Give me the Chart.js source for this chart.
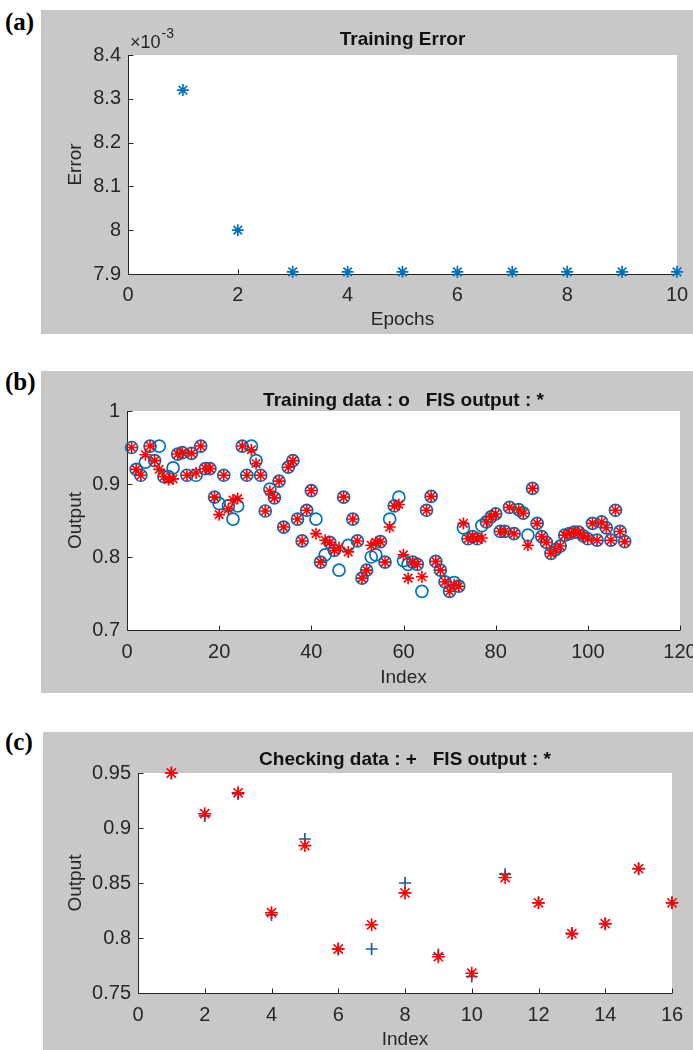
<!DOCTYPE html>
<html>
<head>
<meta charset="utf-8">
<script src="https://cdn.jsdelivr.net/npm/chart.js@4.4.0/dist/chart.umd.min.js"></script>
<style>
  body { margin:0; background:#fff; width:693px; height:1050px; position:relative; overflow:hidden; }
  .panel { position:absolute; background:#c8c8c8; }
  .panel canvas { display:block; }
  .tag { position:absolute; font-family:"Liberation Serif","Times New Roman",serif; font-weight:bold; font-size:25px; color:#000; line-height:28px; }
</style>
</head>
<body>
<div class="tag" style="left:5px;top:8px">(a)</div>
<div class="tag" style="left:5px;top:368px">(b)</div>
<div class="tag" style="left:5px;top:728px">(c)</div>

<div class="panel" style="left:41px;top:10px;width:652px;height:324px"><canvas id="chartA" width="652" height="324"></canvas></div>
<div class="panel" style="left:41px;top:371px;width:652px;height:322px"><canvas id="chartB" width="654" height="322"></canvas></div>
<div class="panel" style="left:43px;top:732px;width:650px;height:320px"><canvas id="chartC" width="650" height="320"></canvas></div>

<script>
// (a) training error per epoch
const epochs = [1, 2, 3, 4, 5, 6, 7, 8, 9, 10];
const trainError = [0.00832, 0.00800, 0.007905, 0.007905, 0.007905, 0.007905, 0.007905, 0.007905, 0.007905, 0.007905];

// (b) training data (o) vs FIS output (*), index 1..108
const trainData = [
  0.950, 0.920, 0.912, 0.930, 0.952, 0.932, 0.952, 0.910, 0.910, 0.922,
  0.941, 0.943, 0.912, 0.942, 0.912, 0.952, 0.921, 0.921, 0.882, 0.873,
  0.912, 0.870, 0.852, 0.870, 0.952, 0.912, 0.952, 0.932, 0.912, 0.863,
  0.893, 0.881, 0.904, 0.841, 0.923, 0.932, 0.852, 0.822, 0.864, 0.891,
  0.852, 0.793, 0.803, 0.820, 0.809, 0.782, 0.882, 0.816, 0.852, 0.822,
  0.771, 0.782, 0.800, 0.803, 0.821, 0.793, 0.852, 0.870, 0.882, 0.795,
  0.790, 0.793, 0.790, 0.753, 0.864, 0.883, 0.794, 0.782, 0.766, 0.753,
  0.765, 0.760, 0.840, 0.825, 0.828, 0.825, 0.843, 0.848, 0.855, 0.859,
  0.835, 0.835, 0.868, 0.832, 0.865, 0.860, 0.830, 0.894, 0.846, 0.828,
  0.820, 0.805, 0.810, 0.815, 0.830, 0.832, 0.834, 0.834, 0.829, 0.825,
  0.846, 0.823, 0.848, 0.840, 0.823, 0.864, 0.835, 0.821
];
const fisTrain = [
  0.950, 0.920, 0.912, 0.940, 0.952, 0.932, 0.920, 0.910, 0.906, 0.907,
  0.941, 0.943, 0.912, 0.942, 0.915, 0.952, 0.921, 0.921, 0.882, 0.858,
  0.912, 0.866, 0.878, 0.880, 0.952, 0.912, 0.947, 0.928, 0.912, 0.863,
  0.890, 0.881, 0.904, 0.841, 0.923, 0.932, 0.852, 0.822, 0.864, 0.891,
  0.832, 0.793, 0.823, 0.820, 0.809, 0.813, 0.882, 0.807, 0.852, 0.822,
  0.771, 0.782, 0.816, 0.820, 0.821, 0.793, 0.841, 0.870, 0.872, 0.803,
  0.771, 0.793, 0.790, 0.773, 0.864, 0.883, 0.794, 0.782, 0.766, 0.753,
  0.762, 0.760, 0.846, 0.825, 0.828, 0.825, 0.826, 0.848, 0.855, 0.859,
  0.835, 0.835, 0.868, 0.832, 0.865, 0.860, 0.816, 0.894, 0.846, 0.828,
  0.820, 0.805, 0.810, 0.815, 0.830, 0.832, 0.834, 0.834, 0.829, 0.825,
  0.846, 0.823, 0.848, 0.840, 0.823, 0.864, 0.835, 0.821
];

// (c) checking data (+) vs FIS output (*), index 1..16
const checkData = [0.950, 0.911, 0.931, 0.821, 0.890, 0.790, 0.790, 0.850, 0.785, 0.765, 0.858, 0.832, 0.804, 0.813, 0.863, 0.832];
const fisCheck  = [0.950, 0.913, 0.932, 0.823, 0.884, 0.790, 0.812, 0.841, 0.783, 0.768, 0.855, 0.832, 0.804, 0.813, 0.863, 0.832];

const FONT = '"Liberation Sans", Arial, Helvetica, sans-serif';
const AXIS = '#262626';
const BLUE = '#0072BD';
const RED = '#ff0000';

const toPoints = (xs, ys) => ys.map((y, i) => ({ x: xs[i], y }));
const idx = n => Array.from({ length: n }, (_, i) => i + 1);

// white plot box, MATLAB style inward ticks, title
const matlabAxes = {
  id: 'matlabAxes',
  beforeDatasetsDraw(chart) {
    const { ctx, chartArea: a, scales } = chart;
    ctx.save();
    ctx.fillStyle = '#fff';
    ctx.fillRect(a.left, a.top, a.right - a.left, a.bottom - a.top);
    ctx.strokeStyle = AXIS;
    ctx.lineWidth = 1;
    const L = Math.round(a.left) + 0.5, B = Math.round(a.bottom) + 0.5;
    ctx.beginPath();
    ctx.moveTo(L, a.top); ctx.lineTo(L, B); ctx.lineTo(a.right, B);
    scales.x.ticks.forEach(t => {
      const px = Math.round(scales.x.getPixelForValue(t.value)) + 0.5;
      ctx.moveTo(px, B); ctx.lineTo(px, B - 5);
    });
    scales.y.ticks.forEach(t => {
      const py = Math.round(scales.y.getPixelForValue(t.value)) + 0.5;
      ctx.moveTo(L, py); ctx.lineTo(L + 5, py);
    });
    ctx.stroke();
    ctx.restore();
  },
  afterDraw(chart, args, opts) {
    const { ctx, chartArea: a } = chart;
    ctx.save();
    ctx.fillStyle = '#111';
    ctx.font = 'bold 19px ' + FONT;
    ctx.textAlign = 'center';
    ctx.textBaseline = 'middle';
    ctx.fillText(opts.title, (a.left + a.right) / 2, opts.titleY);
    if (opts.exponent) {
      ctx.fillStyle = AXIS;
      ctx.textAlign = 'left';
      ctx.font = '18px ' + FONT;
      const base = '\u00d710';
      ctx.fillText(base, a.left + 2, opts.titleY + 3);
      const w = ctx.measureText(base).width;
      ctx.font = '14px ' + FONT;
      ctx.fillText(opts.exponent, a.left + 3 + w, opts.titleY - 6);
    }
    ctx.restore();
  }
};

function scaleOpts(o) {
  const tickFont = { family: FONT, size: 20 };
  const titleFont = { family: FONT, size: 19 };
  return {
    x: {
      type: 'linear', min: o.xMin, max: o.xMax,
      ticks: { stepSize: o.xStep, padding: o.xTickPad, color: AXIS, font: tickFont, maxRotation: 0, autoSkip: false },
      grid: { display: false, drawTicks: false, tickLength: 0 },
      border: { display: false },
      title: { display: true, text: o.xTitle, color: AXIS, font: titleFont, padding: { top: 0, bottom: o.xTitlePad } },
      afterFit: s => { s.height = o.xAxisH; s.paddingRight = 0; s.paddingLeft = 0; }
    },
    y: {
      type: 'linear', min: o.yMin, max: o.yMax,
      ticks: { stepSize: o.yStep, padding: 7, color: AXIS, font: tickFont, autoSkip: false, callback: o.yFmt },
      grid: { display: false, drawTicks: false, tickLength: 0 },
      border: { display: false },
      title: { display: true, text: o.yTitle, color: AXIS, font: titleFont, padding: { top: o.yTitlePad, bottom: 0 } },
      afterFit: s => { s.width = o.yAxisW; }
    }
  };
}

function baseOptions(o, pluginOpts) {
  return {
    responsive: false,
    animation: false,
    events: [],
    layout: { padding: { left: 0, right: o.padRight, top: o.padTop, bottom: 0 } },
    scales: scaleOpts(o),
    plugins: { legend: { display: false }, tooltip: { enabled: false }, matlabAxes: pluginOpts }
  };
}

// (a)
new Chart(document.getElementById('chartA'), {
  type: 'scatter',
  data: {
    datasets: [{
      data: toPoints(epochs, trainError),
      pointStyle: 'star', radius: 6, borderWidth: 1.7,
      borderColor: BLUE, backgroundColor: BLUE, clip: false
    }]
  },
  options: baseOptions({
    xMin: 0, xMax: 10, xStep: 2, xTitle: 'Epochs', xTickPad: 9, xTitlePad: 3, xAxisH: 60,
    yMin: 0.0079, yMax: 0.0084, yStep: 0.0001, yTitle: 'Error', yTitlePad: 23, yAxisW: 87,
    yFmt: v => String(Math.round(v * 1e4) / 10),
    padRight: 16, padTop: 45
  }, { title: 'Training Error', titleY: 30, exponent: '-3' }),
  plugins: [matlabAxes]
});

// (b)
const xb = idx(trainData.length);
new Chart(document.getElementById('chartB'), {
  type: 'scatter',
  data: {
    datasets: [
      { data: toPoints(xb, fisTrain), pointStyle: 'star', radius: 6, borderWidth: 1.6, borderColor: RED, backgroundColor: RED, clip: false },
      { data: toPoints(xb, trainData), pointStyle: 'circle', radius: 6, borderWidth: 1.7, borderColor: BLUE, backgroundColor: 'rgba(0,0,0,0)', clip: false }
    ]
  },
  options: baseOptions({
    xMin: 0, xMax: 120, xStep: 20, xTitle: 'Index', xTickPad: 10, xTitlePad: 4, xAxisH: 63,
    yMin: 0.7, yMax: 1, yStep: 0.1, yTitle: 'Output', yTitlePad: 23, yAxisW: 86,
    yFmt: v => String(Math.round(v * 10) / 10),
    padRight: 15, padTop: 40
  }, { title: 'Training data : o   FIS output : *', titleY: 30 }),
  plugins: [matlabAxes]
});

// (c)
const xc = idx(checkData.length);
new Chart(document.getElementById('chartC'), {
  type: 'scatter',
  data: {
    datasets: [
      { data: toPoints(xc, fisCheck), pointStyle: 'star', radius: 6.5, borderWidth: 1.6, borderColor: RED, backgroundColor: RED, clip: false },
      { data: toPoints(xc, checkData), pointStyle: 'cross', radius: 6, borderWidth: 1.7, borderColor: '#1b5ea6', backgroundColor: '#1b5ea6', clip: false }
    ]
  },
  options: baseOptions({
    xMin: 0, xMax: 16, xStep: 2, xTitle: 'Index', xTickPad: 10, xTitlePad: 1, xAxisH: 59,
    yMin: 0.75, yMax: 0.95, yStep: 0.05, yTitle: 'Output', yTitlePad: 21, yAxisW: 95,
    yFmt: v => String(Math.round(v * 100) / 100),
    padRight: 21, padTop: 41
  }, { title: 'Checking data : +   FIS output : *', titleY: 28 }),
  plugins: [matlabAxes]
});
</script>
</body>
</html>
